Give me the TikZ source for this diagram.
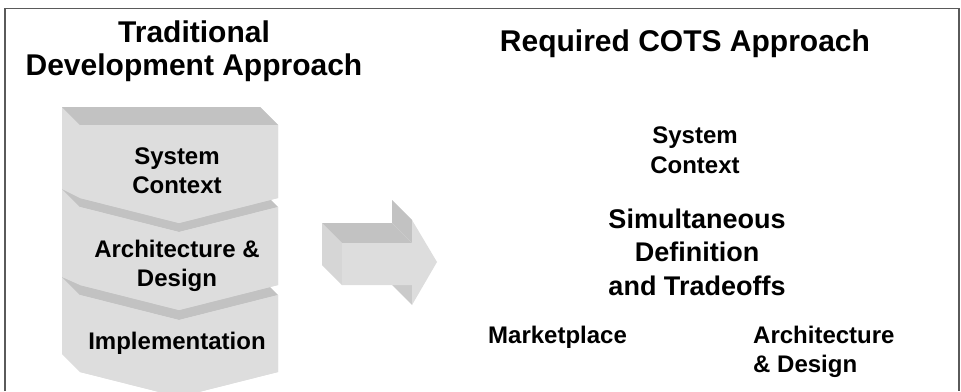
\documentclass[tikz,border=0pt]{standalone}
\usepackage{fontspec}
\setmainfont{Liberation Sans}
\usepackage{tikz}
\usetikzlibrary{positioning}
\definecolor{frontgray}{RGB}{221,221,221}
\definecolor{sidegray}{RGB}{214,214,214}
\definecolor{topgray}{RGB}{194,194,194}
\definecolor{lowgray}{RGB}{202,202,202}
\definecolor{framegray}{RGB}{90,90,90}

\begin{document}
\begin{tikzpicture}[x=1pt, y=-1pt,
  face/.style={fill=frontgray, draw=none},
  topface/.style={fill=topgray, draw=none},
  head/.style={font=\fontsize{30}{33}\selectfont\bfseries, align=center, inner sep=0pt},
  lbl/.style={font=\fontsize{24}{29}\selectfont\bfseries, align=center, inner sep=0pt},
  big/.style={font=\fontsize{27}{33.5}\selectfont\bfseries, align=center, inner sep=0pt}
]
\useasboundingbox (0,0) rectangle (961,391);
% frame
\draw[framegray, line width=1.6pt] (5,391) -- (5,8.5) -- (959,8.5) -- (959,391);
% titles (base = last line)
\node[head, anchor=base] (trad) at (194,75) {Traditional\\Development Approach};
\node[head, anchor=base] (cots) at (685,51) {Required COTS Approach};
% block 3
\path[face] (62,277) -- (161,302) -- (260,277) -- (278,295) -- (278,372) -- (179,397) -- (80,372) -- (62,354) -- cycle;
\path[topface] (62,277) -- (161,302) -- (260,277) -- (278,295) -- (179,320) -- (80,295) -- cycle;
\path[face] (80,295) -- (179,320) -- (278,295) -- (278,372) -- (179,397) -- (80,372) -- cycle;
% block 2
\path[face] (62,189) -- (161,214) -- (260,189) -- (278,207) -- (278,285) -- (179,310) -- (80,285) -- (62,277) -- cycle;
\path[topface] (62,189) -- (161,214) -- (260,189) -- (278,207) -- (179,232) -- (80,207) -- cycle;
\path[face] (80,207) -- (179,232) -- (278,207) -- (278,285) -- (179,310) -- (80,285) -- cycle;
% block 1
\path[face] (62,107) -- (260,107) -- (278,125) -- (278,198) -- (179,223) -- (80,198) -- (62,189) -- cycle;
\path[topface] (62,107) -- (260,107) -- (278,125) -- (80,125) -- cycle;
\path[face] (80,125) -- (278,125) -- (278,198) -- (179,223) -- (80,198) -- cycle;
% block labels
\node[lbl, anchor=base] (ctx) at (177,193.5) {System\\Context};
\node[lbl, anchor=base] (arch) at (177,286) {Architecture \&\\Design};
\node[lbl, anchor=base] (impl) at (177,349) {Implementation};
% 3d arrow
\path[fill=sidegray] (322,223) -- (342,243) -- (342,285) -- (322,265) -- cycle;
\path[topface] (322,223) -- (392,223) -- (412,243) -- (342,243) -- cycle;
\path[topface] (392,223) -- (392,200) -- (412,220) -- (412,243) -- cycle;
\path[fill=lowgray] (392,265) -- (392,285) -- (412,305) -- (412,285) -- cycle;
\path[face] (342,243) -- (412,243) -- (412,220) -- (437,262) -- (412,305) -- (412,285) -- (342,285) -- cycle;
% right side
\node[lbl, anchor=base, font=\fontsize{24}{30}\selectfont\bfseries] (sys) at (695,173) {System\\Context};
\node[big, anchor=base] (sim) at (697,295) {Simultaneous\\Definition\\and Tradeoffs};
\node[lbl, anchor=base west] (mkt) at (488,343) {Marketplace};
\node[lbl, anchor=base west, align=left] (ad) at (753,372) {Architecture\\\& Design};
\end{tikzpicture}
\end{document}
